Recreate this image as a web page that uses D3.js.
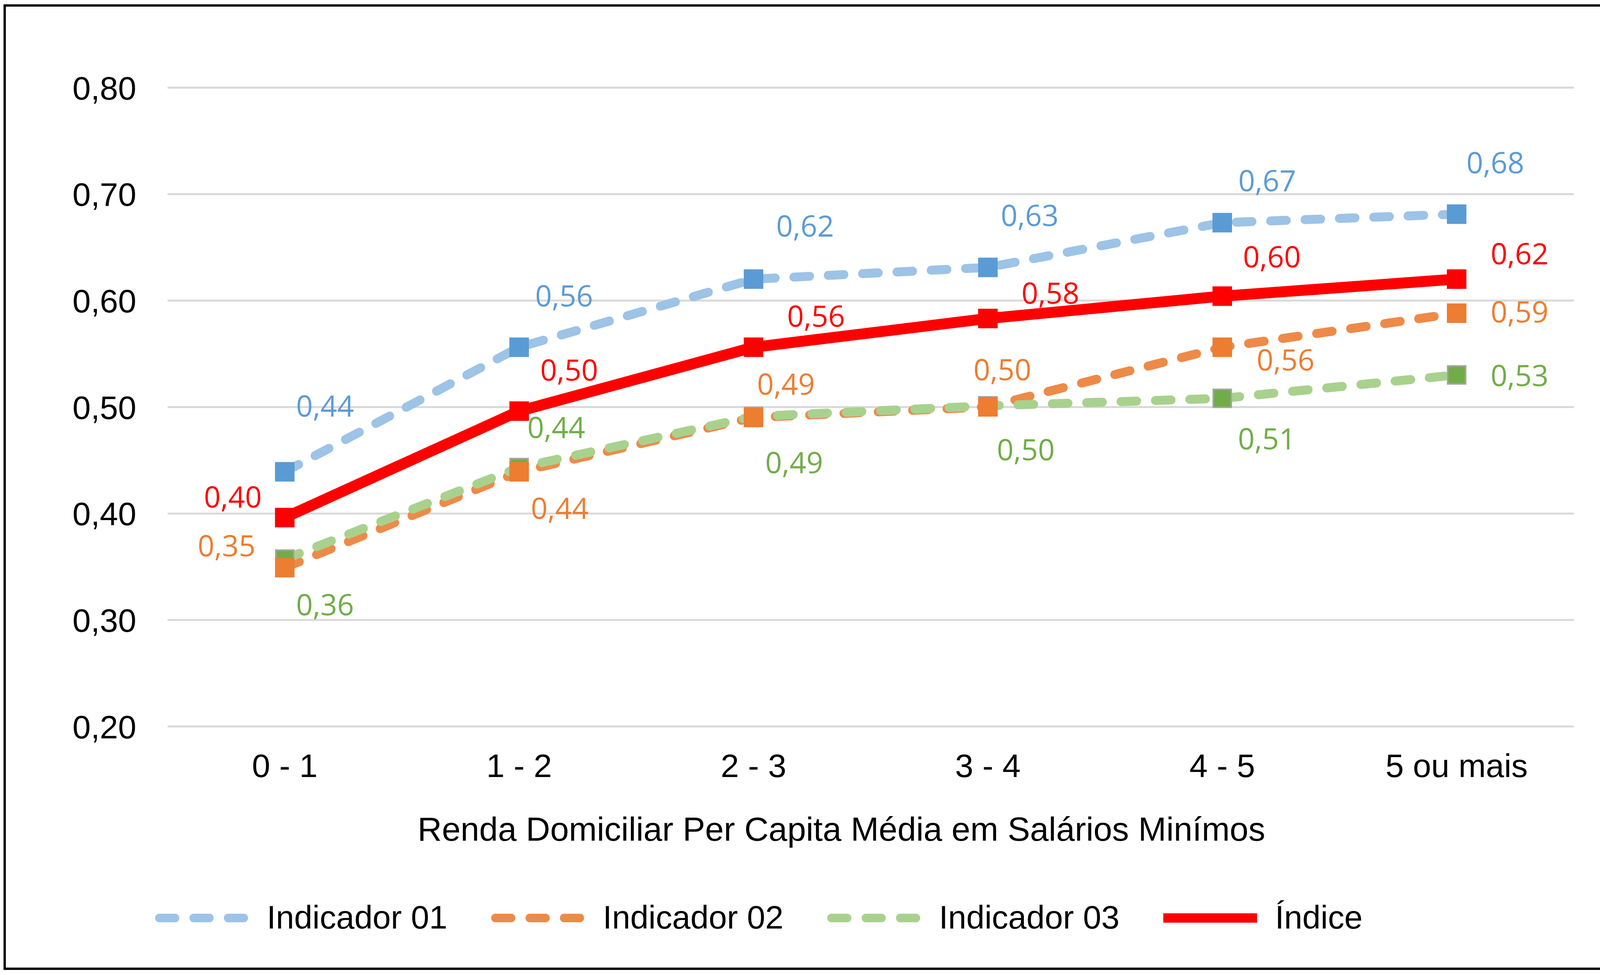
<!DOCTYPE html>
<html>
<head>
<meta charset="utf-8">
<script src="https://cdn.jsdelivr.net/npm/d3@7"></script>
<style>
  html, body { margin: 0; padding: 0; background: #fff; overflow: hidden; }
  svg { display: block; }
</style>
</head>
<body>
<div id="chart"></div>
<script>
// categories on the x axis
let categories = ['0 - 1', '1 - 2', '2 - 3', '3 - 4', '4 - 5', '5 ou mais']

// series values
let indicador01 = [0.439, 0.556, 0.620, 0.631, 0.673, 0.681]
let indicador02 = [0.349, 0.439, 0.490, 0.500, 0.556, 0.588]
let indicador03 = [0.357, 0.443, 0.491, 0.501, 0.508, 0.530]
let indice      = [0.396, 0.496, 0.556, 0.583, 0.604, 0.620]

let seriesNames = ['Indicador 01', 'Indicador 02', 'Indicador 03', 'Índice']

let yTicks = [0.2, 0.3, 0.4, 0.5, 0.6, 0.7, 0.8]

let xTitle = 'Renda Domiciliar Per Capita Média em Salários Minímos'

// label placement (offset from the point, px) - kept apart from the data
let labelOffsets = [
    [[103, -168], [115, -131], [132, -136], [107, -133], [115, -107], [99, -131]],
    [[-149, -56], [104, 94], [83, -85], [37, -95], [162, 33], [161, -3]],
    [[103, 117], [95, -102], [104, 118], [97, 113], [114, 104], [161, 2]],
    [[-133, -53], [128, -105], [160, -79], [160, -65], [127, -100], [161, -65]]
]

let styles = [
    {line: '#9DC3E6', marker: '#5B9BD5', mstroke: '#5B9BD5', label: '#5B9BD5', dash: '40,48', width: 23, cap: 'round'},
    {line: '#EE8A48', marker: '#ED7D31', mstroke: '#ED7D31', label: '#ED7D31', dash: '40,48', width: 23, cap: 'round'},
    {line: '#A9D18E', marker: '#70AD47', mstroke: '#A5A5A5', label: '#70AD47', dash: '40,48', width: 23, cap: 'round'},
    {line: '#FF0000', marker: '#FF0000', mstroke: '#FF0000', label: '#FF0000', dash: null, width: 28, cap: 'butt'}
]

let W = 4147, H = 2497
let plot = {left: 429, right: 4029, top: 224, bottom: 1860}

let svg = d3.select('#chart')
    .append('svg')
    .attr('width', W)
    .attr('height', H)

svg.append('rect')
    .attr('x', 0).attr('y', 0)
    .attr('width', W).attr('height', H)
    .attr('fill', '#fff')

// outer frame
svg.append('rect')
    .attr('x', 12).attr('y', 14)
    .attr('width', 4123).attr('height', 2467)
    .attr('fill', 'none')
    .attr('stroke', '#000')
    .attr('stroke-width', 6)

let xScale = d3.scaleBand()
    .domain(categories)
    .range([plot.left, plot.right])

let yScale = d3.scaleLinear()
    .domain([0.2, 0.8])
    .range([plot.bottom, plot.top])

let cx = (c) => xScale(c) + xScale.bandwidth() / 2
let fmt = (v) => d3.format('.2f')(v).replace('.', ',')

// gridlines + y labels
let yAxis = d3.axisLeft(yScale)
    .tickValues(yTicks)
    .tickSize(-(plot.right - plot.left))
    .tickPadding(80)
    .tickFormat(fmt)

let gy = svg.append('g')
    .attr('transform', `translate(${plot.left},0)`)
    .call(yAxis)
gy.select('.domain').remove()
gy.selectAll('.tick line')
    .attr('stroke', '#D9D9D9')
    .attr('stroke-width', 5)
gy.selectAll('.tick text')
    .attr('font-family', 'Liberation Sans, Arial, sans-serif')
    .attr('font-size', 84)
    .attr('fill', '#000')
    .attr('dy', '0.36em')

// x labels
let xAxis = d3.axisBottom(xScale)
    .tickSize(0)
    .tickPadding(70)

let gx = svg.append('g')
    .attr('transform', `translate(0,${plot.bottom})`)
    .call(xAxis)
gx.select('.domain').remove()
gx.selectAll('.tick text')
    .attr('font-family', 'Liberation Sans, Arial, sans-serif')
    .attr('font-size', 84)
    .attr('fill', '#000')

svg.append('text')
    .attr('x', 2154)
    .attr('y', 2153)
    .attr('text-anchor', 'middle')
    .attr('font-family', 'Liberation Sans, Arial, sans-serif')
    .attr('font-size', 86)
    .attr('fill', '#000')
    .text(xTitle)

let allSeries = [indicador01, indicador02, indicador03, indice]
let data = allSeries.map((vals, i) => ({
    name: seriesNames[i],
    style: styles[i],
    values: vals.map((v, j) => ({cat: categories[j], v: v, off: labelOffsets[i][j]}))
}))

let makeLine = d3.line()
    .x((d) => cx(d.cat))
    .y((d) => yScale(d.v))

let msize = 46

let drawLine = (s) => {
    svg.append('path')
        .attr('d', makeLine(s.values))
        .attr('fill', 'none')
        .attr('stroke', s.style.line)
        .attr('stroke-width', s.style.width)
        .attr('stroke-linecap', s.style.cap)
        .attr('stroke-linejoin', 'round')
        .attr('stroke-dasharray', s.style.dash)
}

let drawMarkers = (s) => {
    svg.append('g').selectAll('rect')
        .data(s.values)
        .enter().append('rect')
        .attr('x', (d) => cx(d.cat) - msize / 2)
        .attr('y', (d) => yScale(d.v) - msize / 2)
        .attr('width', msize)
        .attr('height', msize)
        .attr('fill', s.style.marker)
        .attr('stroke', s.style.mstroke)
        .attr('stroke-width', 4)
}

// draw order roughly like the excel output
drawLine(data[0])
drawLine(data[1])
drawLine(data[2])
drawMarkers(data[0])
drawMarkers(data[2])
drawMarkers(data[1])
drawLine(data[3])
drawMarkers(data[3])

// data labels
data.forEach((s) => {
    svg.append('g').selectAll('text')
        .data(s.values)
        .enter().append('text')
        .attr('x', (d) => cx(d.cat) + d.off[0])
        .attr('y', (d) => yScale(d.v) + d.off[1])
        .attr('dy', '0.36em')
        .attr('text-anchor', 'middle')
        .attr('font-family', 'Open Sans, sans-serif')
        .attr('font-size', 75)
        .attr('fill', s.style.label)
        .text((d) => fmt(d.v))
})

// legend
let legendY = 2351
let lx = 397
data.forEach((s) => {
    let g = svg.append('g')
    let st = s.style
    g.append('line')
        .attr('x1', lx + (st.cap === 'round' ? 11 : 0))
        .attr('x2', lx + 240 - (st.cap === 'round' ? 11 : 0))
        .attr('y1', legendY)
        .attr('y2', legendY)
        .attr('stroke', st.line)
        .attr('stroke-width', st.dash ? 22 : 24)
        .attr('stroke-linecap', st.cap)
        .attr('stroke-dasharray', st.dash)
    let t = g.append('text')
        .attr('x', lx + 286)
        .attr('y', 2378)
        .attr('font-family', 'Liberation Sans, Arial, sans-serif')
        .attr('font-size', 84)
        .attr('fill', '#000')
        .text(s.name)
    lx = lx + 286 + t.node().getComputedTextLength() + 112
})
</script>
</body>
</html>
